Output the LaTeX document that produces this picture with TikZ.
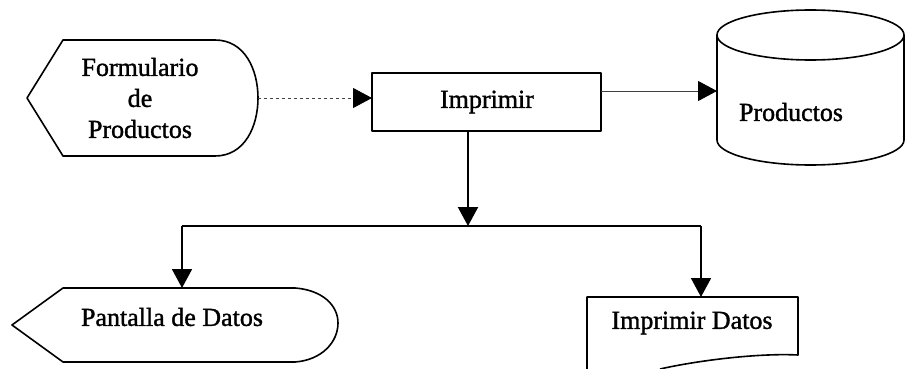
\documentclass[tikz,border=0pt]{standalone}
\usepackage{fontspec}
\setmainfont{Liberation Serif}
\newfontfamily\scanfont{Liberation Serif}[FakeBold=1.3]
\usetikzlibrary{arrows.meta,calc}
\begin{document}
\begin{tikzpicture}[x=1pt,y=-1pt,
  box/.style={inner sep=0pt,outer sep=0pt,minimum width=#1},
  txt/.style={font=\fontsize{26}{31}\scanfont,align=center,inner sep=0pt},
  shapeline/.style={line width=1.6pt,line join=round},
  tip/.style={-{Triangle[length=19pt,width=20pt,color=black]}},
  thinarrow/.style={tip,line width=0.9pt,draw=black!75},
  mainarrow/.style={tip,line width=2.2pt},
  branchline/.style={line width=1.8pt}]
\useasboundingbox (0,0) rectangle (906,369);
% nodes (invisible extents)
\node[box=231pt,minimum height=116pt] (form) at (142.5,98) {};
\node[box=229pt,minimum height=58pt] (imp) at (486.5,102) {};
\node[box=187pt,minimum height=155pt] (cyl) at (810.5,87.5) {};
\node[box=326pt,minimum height=74pt] (pant) at (175,325) {};
\node[box=211pt,minimum height=72pt] (doc) at (692.5,333) {};
% texts
\node[txt] (formT) at (140,98) {Formulario\\de\\Productos};
\node[txt] (impT) at (487,102) {Imprimir};
\node[txt] (cylT) at (791,112) {Productos};
\node[txt] (pantT) at (172,317) {Pantalla de Datos};
\node[txt] (docT) at (692,323) {Imprimir Datos};
% shapes
\draw[shapeline] (27,98) -- (63,40) -- (215,40) .. controls (245,40) and (258,70) .. (258,98)
   .. controls (258,126) and (245,156) .. (215,156) -- (63,156) -- cycle;
\draw[shapeline] (372,73) rectangle (601,131);
\draw[shapeline] (717,35) -- (717,140) arc[start angle=180,end angle=360,x radius=93.5,y radius=-25] -- (904,35);
\draw[shapeline] (810.5,35) ellipse[x radius=93.5,y radius=25];
\draw[shapeline] (12,325) -- (63,288) -- (295,288) .. controls (322,290) and (338,305) .. (338,323)
   .. controls (338,342) and (322,360) .. (295,362) -- (63,362) -- cycle;
\draw[shapeline] (587,369) -- (587,297) -- (798,297) -- (798,355)
   .. controls (760,353) and (700,360) .. (660,369);
% connectors
\draw[thinarrow,dash pattern=on 3pt off 3pt] (form.east) -- (form.east -| imp.west);
\draw[thinarrow] ([yshift=11pt]imp.east) -- ([yshift=11pt]imp.east -| cyl.west);
\coordinate (branch) at (468,226);
\coordinate (bl) at (182,226);
\coordinate (br) at (701,226);
\draw[mainarrow] (branch |- imp.south) -- (branch);
\draw[branchline] (bl) -- (br);
\draw[mainarrow,line width=1.8pt] (bl) -- (bl |- pant.north);
\draw[mainarrow,line width=1.8pt] (br) -- (br |- doc.north);
\end{tikzpicture}
\end{document}
